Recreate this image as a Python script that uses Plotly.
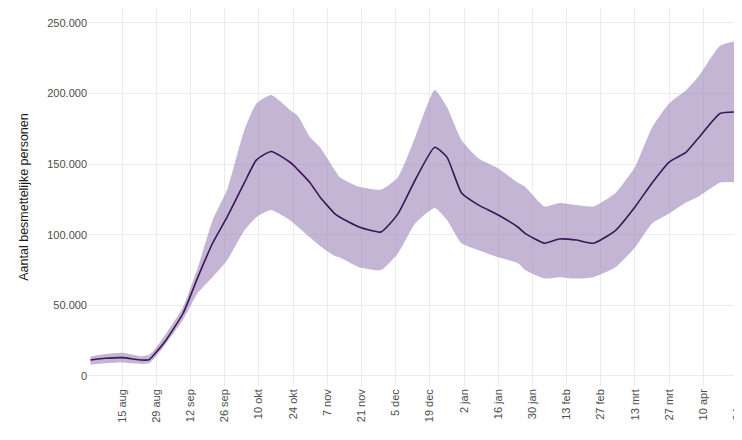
import plotly.graph_objects as go

dates = ["2020-08-02", "2020-08-08", "2020-08-15", "2020-08-23", "2020-08-26", "2020-08-28",
         "2020-09-02", "2020-09-09", "2020-09-15", "2020-09-21", "2020-09-27", "2020-10-04",
         "2020-10-09", "2020-10-15", "2020-10-23", "2020-10-26", "2020-10-31", "2020-11-04",
         "2020-11-10", "2020-11-12", "2020-11-20", "2020-11-29", "2020-12-06", "2020-12-13",
         "2020-12-21", "2020-12-26", "2021-01-01", "2021-01-08", "2021-01-16", "2021-01-24",
         "2021-01-27", "2021-02-04", "2021-02-10", "2021-02-17", "2021-02-24", "2021-03-05",
         "2021-03-13", "2021-03-20", "2021-03-27", "2021-04-03", "2021-04-08", "2021-04-17",
         "2021-04-26"]

median = [11300, 12500, 13000, 11300, 11500, 15000,
          25500, 44600, 70000, 94000, 112600, 136700,
          153000, 159000, 151000, 146000, 136700, 126800,
          115000, 112600, 105500, 102000, 115000, 138800,
          162000, 155000, 129600, 121000, 114000, 105500,
          101000, 94000, 97000, 96300, 94000, 103000,
          119700, 136700, 151500, 158600, 168500, 186000,
          187000]

upper = [13700, 15500, 16500, 14000, 15000, 18000,
         30000, 49000, 77000, 110000, 132000, 174000,
         193000, 199000, 188000, 184000, 169000, 162000,
         146000, 141000, 134000, 132000, 141000, 169000,
         202500, 190500, 167000, 154000, 147000, 137000,
         134000, 120000, 122500, 121000, 120000, 129600,
         148000, 176000, 193000, 202500, 212000, 234000,
         238000]

lower = [8000, 9000, 9500, 8500, 9000, 12000,
         23000, 40000, 59000, 70000, 82000, 103000,
         112600, 117600, 110000, 105500, 98000, 92000,
         85000, 84000, 77000, 75000, 87000, 108000,
         119000, 110500, 94000, 89000, 84000, 80000,
         75000, 69000, 70000, 69000, 70000, 77000,
         91000, 108000, 115000, 123000, 127000, 137000,
         137000]

tick_dates = ["2020-08-15", "2020-08-29", "2020-09-12", "2020-09-26", "2020-10-10", "2020-10-24",
              "2020-11-07", "2020-11-21", "2020-12-05", "2020-12-19", "2021-01-02", "2021-01-16",
              "2021-01-30", "2021-02-13", "2021-02-27", "2021-03-13", "2021-03-27", "2021-04-10",
              "2021-04-24"]
tick_labels = ["15 aug", "29 aug", "12 sep", "26 sep", "10 okt", "24 okt", "7 nov", "21 nov",
               "5 dec", "19 dec", "2 jan", "16 jan", "30 jan", "13 feb", "27 feb", "13 mrt",
               "27 mrt", "10 apr", "24 apr"]

y_ticks = [0, 50000, 100000, 150000, 200000, 250000]

fig = go.Figure()
fig.add_trace(go.Scatter(x=dates, y=upper, mode="lines", line=dict(width=0, shape="spline", smoothing=0.5),
                         showlegend=False, hoverinfo="skip"))
fig.add_trace(go.Scatter(x=dates, y=lower, mode="lines", line=dict(width=0, shape="spline", smoothing=0.5),
                         fill="tonexty", fillcolor="rgba(160,135,185,0.62)",
                         showlegend=False, hoverinfo="skip"))
fig.add_trace(go.Scatter(x=dates, y=median, mode="lines",
                         line=dict(color="#3b1656", width=1.6, shape="spline", smoothing=0.5),
                         showlegend=False))

fig.update_layout(
    width=734, height=432,
    margin=dict(l=80, r=0, t=0, b=54, autoexpand=False),
    paper_bgcolor="white", plot_bgcolor="white",
    separators=",.",
    font=dict(family="Liberation Sans, Arial, sans-serif", color="#4d4d4d", size=11),
    xaxis=dict(
        type="date", automargin=False,
        range=["2020-08-01", "2021-04-25T20:00"],
        tickvals=tick_dates, ticktext=tick_labels,
        tickangle=-90, showgrid=True, gridcolor="#ebebeb", gridwidth=1,
        zeroline=False, showline=False, ticks="",
        ticklabeloverflow="allow",
        tickfont=dict(size=11, color="#4d4d4d"),
    ),
    yaxis=dict(
        automargin=False,
        range=[-7100, 260600],
        tickvals=y_ticks, tickformat=",d",
        showgrid=True, gridcolor="#ebebeb", gridwidth=1,
        zeroline=False, showline=False, ticks="",
        tickfont=dict(size=11, color="#4d4d4d"),
        title=dict(text="Aantal besmettelijke personen",
                   font=dict(size=12.5, color="#1a1a1a"), standoff=15),
    ),
)

fig.write_html("out.html")
